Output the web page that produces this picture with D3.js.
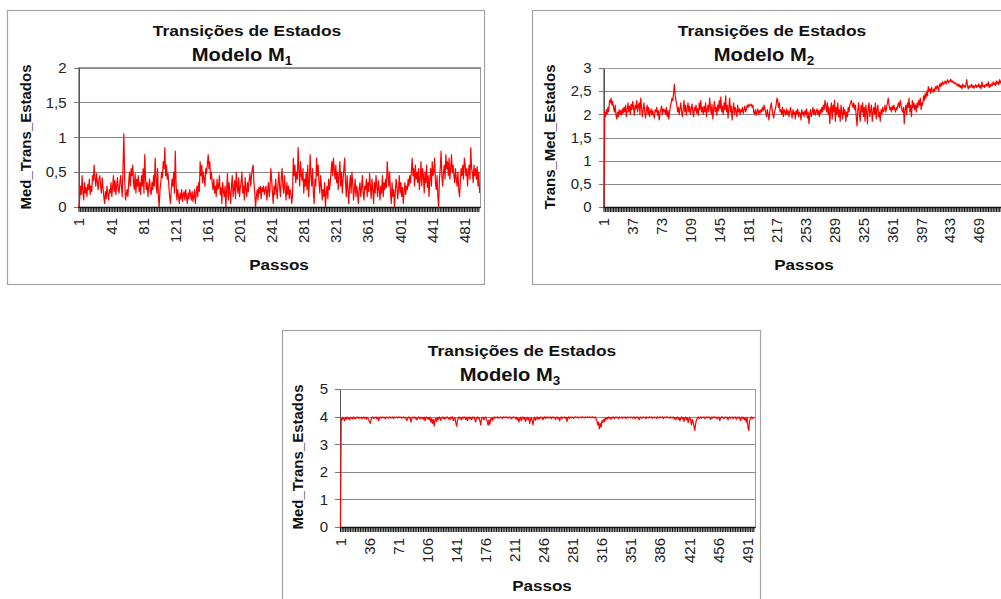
<!DOCTYPE html>
<html>
<head>
<meta charset="utf-8">
<script src="https://cdn.jsdelivr.net/npm/d3@7"></script>
<style>
body { margin: 0; background: #fff; }
svg { display: block; }
text { font-family: "Liberation Sans", Arial, sans-serif; }
</style>
</head>
<body>
<svg id="chart" width="1001" height="599"></svg>
<script>
// ---- data ----
var steps = d3.range(1, 501)

var valuesM1 = [
0,0.12,0.30,0.18,0.45,0.22,0.10,0.35,0.20,0.28,0.15,0.32,0.25,0.40,0.18,0.30,0.22,0.45,0.38,0.60,0.42,0.30,0.48,0.35,0.25,
0.40,0.45,0.30,0.20,0.42,0.28,0.15,0.05,0.22,0.12,0.30,0.18,0.10,0.25,0.20,0.35,0.15,0.28,0.45,0.22,0.38,0.18,0.30,0.42,0.25,
0.20,0.35,0.45,0.28,0.15,0.60,1.05,0.40,0.10,0.18,0.25,0.15,0.35,0.50,0.30,0.55,0.45,0.60,0.35,0.25,0.48,0.20,0.40,0.30,0.45,
0.22,0.35,0.18,0.45,0.30,0.55,0.20,0.75,0.40,0.25,0.35,0.15,0.30,0.40,0.22,0.18,0.35,0.25,0.45,0.30,0.70,0.40,0.20,0.55,0.15,
0.00,0.25,0.35,0.50,0.42,0.65,0.55,0.85,0.45,0.60,0.40,0.48,0.30,0.15,0.05,0.25,0.40,0.30,0.50,0.20,0.80,0.35,0.10,0.25,0.15,
0.05,0.20,0.12,0.25,0.08,0.18,0.22,0.10,0.25,0.15,0.05,0.20,0.12,0.25,0.18,0.10,0.22,0.08,0.15,0.25,0.05,0.18,0.30,0.15,0.35,
0.22,0.65,0.45,0.60,0.35,0.50,0.40,0.30,0.55,0.48,0.62,0.75,0.55,0.65,0.40,0.50,0.35,0.25,0.40,0.20,0.30,0.15,0.40,0.25,0.30,
0.45,0.18,0.28,0.05,0.35,0.22,0.15,0.30,0.00,0.25,0.48,0.10,0.35,0.20,0.05,0.30,0.45,0.15,0.25,0.38,0.12,0.50,0.30,0.20,0.42,
0.15,0.28,0.35,0.50,0.20,0.30,0.10,0.42,0.25,0.15,0.35,0.22,0.38,0.48,0.30,0.45,0.55,0.60,0.35,0.20,0.00,0.15,0.25,0.10,0.28,
0.20,0.30,0.12,0.28,0.22,0.30,0.18,0.25,0.30,0.10,0.22,0.35,0.15,0.28,0.55,0.40,0.20,0.05,0.30,0.18,0.40,0.25,0.12,0.35,0.50,
0.28,0.15,0.42,0.55,0.30,0.20,0.45,0.25,0.10,0.35,0.18,0.30,0.12,0.25,0.20,0.05,0.15,0.70,0.45,0.60,0.35,0.50,0.40,0.85,0.55,
0.30,0.65,0.45,0.38,0.55,0.20,0.40,0.30,0.50,0.25,0.60,0.15,0.35,0.75,0.45,0.30,0.55,0.20,0.05,0.40,0.30,0.70,0.45,0.60,0.35,
0.20,0.45,0.30,0.10,0.25,0.15,0.35,0.00,0.20,0.30,0.12,0.40,0.25,0.35,0.50,0.65,0.45,0.70,0.55,0.40,0.60,0.35,0.50,0.25,0.45,
0.65,0.30,0.50,0.20,0.40,0.55,0.70,0.35,0.15,0.45,0.25,0.05,0.30,0.45,0.20,0.50,0.35,0.10,0.25,0.40,0.15,0.30,0.20,0.05,0.25,
0.35,0.15,0.28,0.45,0.20,0.10,0.30,0.25,0.40,0.15,0.35,0.22,0.48,0.30,0.12,0.40,0.25,0.05,0.35,0.20,0.45,0.30,0.15,0.38,0.25,
0.10,0.30,0.20,0.45,0.15,0.35,0.25,0.40,0.28,0.65,0.45,0.30,0.50,0.20,0.05,0.35,0.15,0.25,0.00,0.20,0.40,0.30,0.12,0.25,0.45,
0.20,0.35,0.15,0.28,0.05,0.22,0.35,0.18,0.30,0.25,0.40,0.30,0.45,0.35,0.50,0.70,0.45,0.55,0.30,0.60,0.40,0.50,0.35,0.55,0.25,
0.40,0.65,0.30,0.55,0.45,0.20,0.50,0.35,0.60,0.28,0.45,0.15,0.40,0.55,0.30,0.65,0.45,0.50,0.70,0.35,0.25,0.45,0.15,0.00,0.40,
0.55,0.80,0.45,0.30,0.50,0.60,0.40,0.75,0.55,0.65,0.45,0.70,0.40,0.55,0.75,0.50,0.60,0.45,0.35,0.55,0.40,0.30,0.50,0.25,0.15,
0.35,0.55,0.45,0.60,0.40,0.70,0.60,0.45,0.55,0.30,0.50,0.60,0.40,0.85,0.55,0.50,0.35,0.60,0.45,0.55,0.40,0.58,0.30,0.50,0.20
]

var valuesM2 = [
0,2.05,1.95,2.10,2.00,2.15,2.05,2.30,2.25,2.35,2.20,2.28,2.15,2.05,2.20,2.00,1.90,2.05,1.95,2.10,2.00,2.08,1.98,2.12,2.02,
2.15,2.05,2.20,1.95,2.10,2.25,2.05,2.18,2.00,2.22,2.10,2.28,2.15,1.98,2.20,2.12,2.30,2.05,2.18,2.25,2.00,2.35,2.15,1.95,2.10,
2.25,2.05,1.92,2.10,2.20,2.00,2.15,1.95,2.05,2.12,1.98,2.08,2.00,1.92,2.10,2.05,2.15,1.98,2.08,1.88,2.02,2.10,2.18,2.00,2.12,
2.05,2.10,2.00,2.15,1.95,2.08,1.90,2.05,2.18,2.25,2.35,2.30,2.45,2.65,2.40,2.30,2.20,2.05,2.15,2.00,2.12,2.25,2.05,1.95,2.10,
2.30,2.05,2.20,1.98,2.12,2.25,2.05,2.18,2.00,2.10,2.22,2.05,1.95,2.15,2.08,2.20,2.02,2.12,1.98,2.25,2.10,2.30,2.05,2.15,2.00,
2.18,2.05,2.25,1.95,2.10,2.20,2.05,2.35,2.15,2.00,2.22,1.90,2.10,2.28,2.05,2.15,1.98,2.20,2.08,2.30,2.12,2.38,2.05,2.18,2.00,
2.25,2.10,2.40,2.05,2.20,1.92,2.15,2.35,2.05,2.18,1.88,2.10,2.25,2.00,2.15,2.08,1.95,2.20,2.05,2.12,2.00,2.10,2.05,2.15,2.02,
2.10,2.18,2.05,2.12,2.20,2.15,2.22,2.18,2.20,2.22,2.15,2.20,2.05,2.00,2.10,1.98,2.05,2.12,2.00,2.08,2.02,2.10,2.05,2.15,2.08,
2.20,2.12,2.05,1.95,2.10,2.00,1.88,2.05,2.15,2.25,2.10,2.00,1.92,2.05,2.12,2.20,2.35,2.30,2.15,2.25,2.05,2.10,2.00,2.15,1.95,
2.10,2.05,1.98,2.12,2.00,2.08,1.95,2.05,2.15,2.02,1.92,2.10,2.00,2.05,1.90,2.08,2.00,2.12,1.95,2.05,2.02,1.88,2.10,2.00,2.05,
1.95,2.08,2.00,2.12,1.92,2.05,1.80,2.00,2.10,1.95,2.05,2.15,2.00,2.10,1.98,2.05,2.12,2.00,2.08,1.95,2.10,2.02,2.15,2.05,2.20,
2.10,2.30,2.20,2.05,2.25,2.00,2.15,1.80,2.10,2.25,1.90,2.20,2.05,2.30,1.85,2.15,2.00,2.25,1.95,2.10,1.85,2.20,2.05,1.90,2.15,
2.00,2.10,1.85,2.05,1.95,2.15,2.05,2.20,2.25,2.30,2.20,2.15,2.25,2.10,2.20,1.95,1.75,2.10,2.25,2.00,1.85,2.20,2.05,2.25,1.95,
2.15,1.85,2.20,2.05,1.80,2.15,2.25,1.95,2.10,2.20,1.85,2.05,2.15,2.00,2.25,1.90,2.10,2.20,1.95,2.05,1.85,2.10,2.00,2.15,2.05,
2.10,2.20,2.05,2.15,2.25,2.35,2.20,2.10,2.15,2.05,2.18,2.10,2.20,2.12,2.05,2.15,2.10,2.20,2.25,2.15,2.30,2.20,2.10,2.05,2.15,
1.80,2.10,2.20,2.00,2.25,2.15,2.35,2.05,2.20,1.95,2.30,2.15,2.25,2.10,2.20,2.05,2.25,2.15,2.30,2.20,2.35,2.10,2.25,2.20,2.40,
2.30,2.45,2.35,2.50,2.40,2.60,2.50,2.55,2.45,2.58,2.52,2.48,2.55,2.50,2.60,2.55,2.62,2.58,2.50,2.65,2.60,2.68,2.62,2.70,2.65,
2.68,2.72,2.65,2.70,2.75,2.68,2.72,2.70,2.76,2.70,2.72,2.68,2.70,2.66,2.68,2.65,2.62,2.66,2.60,2.64,2.58,2.62,2.55,2.65,2.60,
2.62,2.58,2.64,2.75,2.60,2.55,2.62,2.58,2.60,2.65,2.58,2.62,2.56,2.60,2.64,2.58,2.62,2.60,2.66,2.58,2.62,2.55,2.70,2.60,2.62,
2.58,2.64,2.60,2.66,2.62,2.70,2.58,2.64,2.60,2.66,2.62,2.70,2.64,2.68,2.62,2.72,2.66,2.70,2.64,2.75,2.68,2.72,2.66,2.70,2.74
]

var valuesM3 = [
0,3.95,3.88,3.98,3.92,3.85,3.97,3.90,3.99,3.93,3.96,3.88,3.98,3.94,3.97,3.91,3.99,3.95,3.92,3.98,3.96,3.99,3.93,3.97,3.95,
3.98,3.92,3.96,3.99,3.94,3.97,3.90,3.98,3.95,3.88,3.82,3.75,3.90,3.96,3.99,3.93,3.97,3.95,3.99,3.92,3.98,3.85,3.96,3.99,3.94,
3.97,3.99,3.95,3.98,3.92,3.96,3.99,3.97,3.94,3.98,3.99,3.95,3.97,3.99,3.93,3.98,3.96,3.99,3.97,3.95,3.99,3.98,3.96,3.99,3.94,
3.97,3.99,3.95,3.98,3.92,3.86,3.96,3.99,3.94,3.97,3.80,3.92,3.98,3.95,3.99,3.93,3.97,3.88,3.95,3.99,3.96,3.91,3.98,3.94,3.97,
3.90,3.98,3.85,3.95,3.99,3.92,3.96,3.88,3.98,3.80,3.93,3.75,3.90,3.65,3.88,3.95,3.82,3.97,3.90,3.99,3.94,3.86,3.97,3.99,3.93,
3.97,3.90,3.98,3.95,3.99,3.92,3.96,3.88,3.98,3.94,3.99,3.85,3.93,3.97,3.78,3.65,3.85,3.95,3.99,3.92,3.97,3.88,3.98,3.94,3.99,
3.96,3.90,3.98,3.85,3.95,3.99,3.92,3.97,3.88,3.98,3.94,3.99,3.90,3.80,3.96,3.99,3.93,3.97,3.85,3.70,3.92,3.98,3.95,3.88,3.97,
3.99,3.90,3.82,3.68,3.88,3.72,3.90,3.96,3.85,3.98,3.92,3.99,3.95,3.97,3.99,3.94,3.98,3.96,3.99,3.97,3.93,3.98,3.99,3.96,3.98,
3.99,3.97,3.94,3.98,3.99,3.96,3.92,3.98,3.95,3.99,3.97,3.93,3.98,3.88,3.96,3.80,3.92,3.98,3.85,3.95,3.99,3.90,3.97,3.82,3.94,
3.98,3.88,3.96,3.75,3.90,3.97,3.85,3.70,3.92,3.98,3.86,3.95,3.99,3.90,3.97,3.92,3.99,3.95,3.98,3.88,3.96,3.99,3.93,3.97,3.99,
3.94,3.98,3.96,3.99,3.92,3.97,3.99,3.95,3.98,3.90,3.96,3.99,3.93,3.97,3.85,3.95,3.99,3.92,3.98,3.96,3.99,3.94,3.97,3.82,3.95,
3.99,3.93,3.98,3.96,3.99,3.97,3.94,3.98,3.99,3.96,3.98,3.99,3.95,3.97,3.99,3.96,3.98,3.99,3.97,3.95,3.99,3.98,3.96,3.99,3.97,
3.98,3.99,3.96,3.98,3.99,3.97,3.95,3.99,3.92,3.85,3.70,3.80,3.55,3.75,3.62,3.85,3.78,3.90,3.82,3.95,3.88,3.97,3.92,3.99,3.94,
3.97,3.90,3.98,3.95,3.99,3.93,3.97,3.99,3.96,3.98,3.92,3.99,3.95,3.97,3.99,3.94,3.98,3.96,3.99,3.93,3.97,3.99,3.95,3.98,3.96,
3.99,3.97,3.94,3.98,3.99,3.92,3.97,3.99,3.95,3.98,3.88,3.96,3.99,3.94,3.97,3.99,3.96,3.98,3.92,3.99,3.97,3.95,3.99,3.98,3.96,
3.99,3.94,3.97,3.99,3.96,3.98,3.93,3.99,3.97,3.95,3.99,3.98,3.96,3.99,3.92,3.97,3.99,3.95,3.98,3.99,3.96,3.98,3.94,3.99,3.97,
3.95,3.99,3.92,3.97,3.88,3.96,3.99,3.90,3.97,3.85,3.94,3.99,3.92,3.97,3.82,3.95,3.99,3.88,3.96,3.78,3.93,3.98,3.85,3.70,3.90,
3.80,3.65,3.50,3.75,3.88,3.95,3.99,3.92,3.97,3.99,3.94,3.98,3.96,3.99,3.93,3.97,3.99,3.95,3.98,3.99,3.96,3.90,3.98,3.94,3.99,
3.97,3.99,3.95,3.98,3.92,3.96,3.99,3.85,3.94,3.98,3.99,3.96,3.93,3.97,3.99,3.95,3.98,3.88,3.96,3.99,3.94,3.97,3.99,3.92,3.98,
3.96,3.99,3.90,3.97,3.99,3.94,3.98,3.85,3.96,3.99,3.92,3.97,3.88,3.95,3.80,3.98,3.60,3.50,3.85,3.94,3.99,3.92,3.97,3.95,3.98
]

var yTicksM1 = [0, 0.5, 1, 1.5, 2]
var yTicksM2 = [0, 0.5, 1, 1.5, 2, 2.5, 3]
var yTicksM3 = [0, 1, 2, 3, 4, 5]

var xTicksM1 = [1, 41, 81, 121, 161, 201, 241, 281, 321, 361, 401, 441, 481]
var xTicksM2 = [1, 37, 73, 109, 145, 181, 217, 253, 289, 325, 361, 397, 433, 469]
var xTicksM3 = [1, 36, 71, 106, 141, 176, 211, 246, 281, 316, 351, 386, 421, 456, 491]

var chartTitle = "Transições de Estados"
var modelNames = ["1", "2", "3"]
var yTitles = ["Med_Trans_Estados", "Trans_Med_Estados", "Med_Trans_Estados"]
var xTitle = "Passos"

// ---- layout ----
var charts = [
    {values: valuesM1, yTicks: yTicksM1, xTicks: xTicksM1, model: modelNames[0], yTitle: yTitles[0],
     box: [7, 10, 477, 274], plot: [78.5, 480, 67.5, 207],
     title: [247, 36], sub: [242, 61], yLab: [26, 137], xLab: [279, 270]},
    {values: valuesM2, yTicks: yTicksM2, xTicks: xTicksM2, model: modelNames[1], yTitle: yTitles[1],
     box: [532, 10, 477, 274], plot: [603.5, 1004, 68, 207],
     title: [772, 36], sub: [764, 61], yLab: [550, 137], xLab: [804, 270]},
    {values: valuesM3, yTicks: yTicksM3, xTicks: xTicksM3, model: modelNames[2], yTitle: yTitles[2],
     box: [282, 330, 478, 280], plot: [340, 755, 389, 527],
     title: [522, 356], sub: [510, 381], yLab: [298, 457], xLab: [542, 591]}
]

var svg = d3.select("#chart")
svg.append("rect").attr("width", 1001).attr("height", 599).attr("fill", "white")

function comma_fmt(d){ return String(d).replace(".", ",") }

function stretched_text(parent, pos, sx, size, txt){
    var t = parent.append("g")
        .attr("transform", "translate(" + pos[0] + "," + pos[1] + ") scale(" + sx + ",1)")
        .append("text")
        .attr("text-anchor", "middle")
        .attr("font-weight", "bold")
        .attr("font-size", size)
        .attr("fill", "#111")
        .text(txt)
    return t
}

function draw_chart(c){
    var g = svg.append("g")
    var left = c.plot[0], right = c.plot[1], top = c.plot[2], bottom = c.plot[3]
    var w = right - left

    // outer frame
    g.append("rect")
        .attr("x", c.box[0] + 0.5).attr("y", c.box[1] + 0.5)
        .attr("width", c.box[2]).attr("height", c.box[3])
        .attr("fill", "white")
        .attr("stroke", "#a3a3a3")
        .attr("stroke-width", 1.2)

    var x = d3.scaleBand().domain(steps).range([left, right])
    var y = d3.scaleLinear().domain([0, d3.max(c.yTicks)]).range([bottom, top])

    // grid lines
    var grid = g.append("g")
        .attr("transform", "translate(" + left + ",0)")
        .call(d3.axisLeft(y).tickValues(c.yTicks).tickSize(-w).tickFormat(""))
    grid.select(".domain").remove()
    grid.selectAll("line").attr("stroke", "#8a8a8a").attr("shape-rendering", "crispEdges")

    // plot frame: top and right edge
    g.append("rect")
        .attr("x", left).attr("y", top)
        .attr("width", w).attr("height", bottom - top)
        .attr("fill", "none")
        .attr("stroke", "#9a9a9a")
        .attr("shape-rendering", "crispEdges")

    // y axis with labels
    var yAxis = g.append("g")
        .attr("transform", "translate(" + left + ",0)")
        .call(d3.axisLeft(y).tickValues(c.yTicks).tickSizeInner(5).tickSizeOuter(0).tickPadding(7).tickFormat(comma_fmt))
    yAxis.select(".domain").attr("stroke", "#555").attr("shape-rendering", "crispEdges")
    yAxis.selectAll("line").attr("stroke", "#777").attr("shape-rendering", "crispEdges")
    yAxis.selectAll("text")
        .attr("font-size", 15)
        .attr("fill", "#222")
        .style("font-family", "'Liberation Sans', Arial, sans-serif")

    // series line
    g.append("path")
        .datum(c.values)
        .attr("fill", "none")
        .attr("stroke", "#ff0000")
        .attr("stroke-width", 1.2)
        .attr("stroke-linejoin", "round")
        .attr("d", d3.line()
            .x(function(d, i){ return x(steps[i]) + x.bandwidth()/2 })
            .y(function(d){ return y(d) }))

    // dense category ticks under the x axis (Excel draws them so close they form a band)
    var bandTicks = steps.filter(function(d, i){ return i % 2 == 0 })
    var xAxis = g.append("g")
        .attr("transform", "translate(0," + bottom + ")")
        .call(d3.axisBottom(x).tickValues(bandTicks).tickSizeInner(5).tickSizeOuter(0).tickFormat(""))
    xAxis.select(".domain").attr("stroke", "#111").attr("stroke-width", 1.5)
    xAxis.selectAll("line").attr("stroke", "#151515").attr("stroke-width", 1.1)

    // rotated category labels
    var xLabels = g.append("g")
        .attr("transform", "translate(0," + bottom + ")")
        .call(d3.axisBottom(x).tickValues(c.xTicks).tickSize(0))
    xLabels.select(".domain").remove()
    xLabels.selectAll("text")
        .attr("transform", "rotate(-90)")
        .attr("text-anchor", "end")
        .attr("x", -11)
        .attr("y", 0)
        .attr("dy", "0.36em")
        .attr("font-size", 15)
        .attr("fill", "#222")
        .style("font-family", "'Liberation Sans', Arial, sans-serif")

    // titles
    stretched_text(g, c.title, 1.2, 14.5, chartTitle)
    var sub = stretched_text(g, c.sub, 1.12, 18, "Modelo M")
    sub.append("tspan").attr("font-size", 12).attr("dy", 4).text(c.model)

    stretched_text(g, c.xLab, 1.1, 15.5, xTitle)

    g.append("text")
        .attr("transform", "translate(" + c.yLab[0] + "," + c.yLab[1] + ") rotate(-90)")
        .attr("text-anchor", "middle")
        .attr("dy", "0.35em")
        .attr("font-weight", "bold")
        .attr("font-size", 15)
        .attr("fill", "#111")
        .text(c.yTitle)
}

charts.forEach(draw_chart)
</script>
</body>
</html>
